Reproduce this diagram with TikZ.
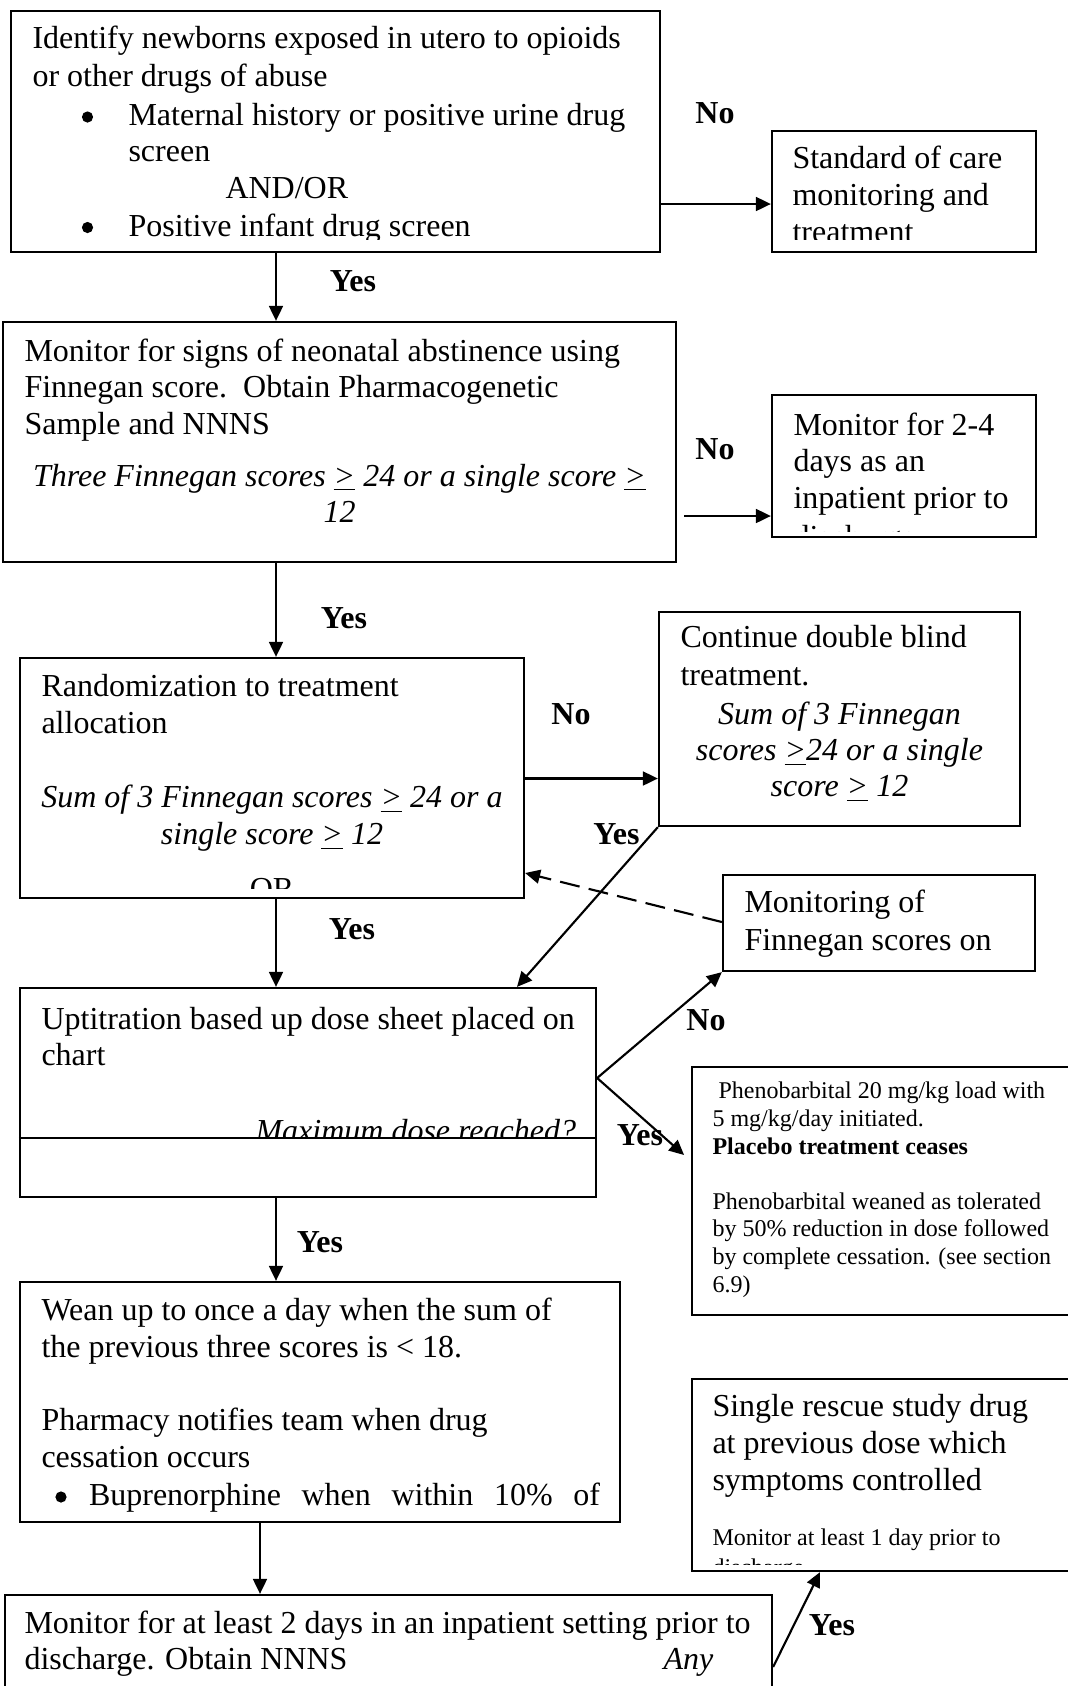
\documentclass[tikz,border=0pt]{standalone}
\usepackage{fontspec}
\setmainfont{Liberation Serif}
\usetikzlibrary{arrows.meta,fit}
\tikzset{
  box/.style={draw, line width=0.85pt, inner sep=0pt},
  txt/.style={anchor=base west, inner sep=0pt, font=\fontsize{12}{13.8}\selectfont},
  ctxt/.style={anchor=base, inner sep=0pt, font=\fontsize{12}{13.8}\selectfont\itshape},
  smalltxt/.style={anchor=base west, inner sep=0pt, font=\fontsize{9}{10.35}\selectfont},
  dot/.style={circle, fill, inner sep=0pt, minimum size=4.2pt},
  lbl/.style={anchor=base, inner sep=0pt, font=\fontsize{12}{13.8}\selectfont\bfseries},
  arr/.style={-{Triangle[length=5.6pt,width=5.2pt]}, line width=0.8pt}
}
\newcommand{\ugt}{\underline{>}}
\begin{document}
\begin{tikzpicture}[x=0.375pt, y=-0.375pt]
\useasboundingbox (0,0) rectangle (1068,1686);
\node[box, fit={(11,11) (660,252)}] (identify) {};
\node[box, fit={(772,131) (1036,252)}] (standard) {};
\node[box, fit={(3,322) (676,562)}] (monitor) {};
\node[box, fit={(772,395) (1036,537)}] (inpatient) {};
\node[box, fit={(20,658) (524,898)}] (random) {};
\node[box, fit={(659,612) (1020,826)}] (doubleblind) {};
\node[box, fit={(723,875) (1035,971)}] (monitoring) {};
\node[box, fit={(20,988) (596,1197)}] (uptitration) {};
\node[box, fit={(692,1067) (1080,1315)}] (pheno) {};
\node[box, fit={(20,1282) (620,1522)}] (wean) {};
\node[box, fit={(5,1595) (772,1700)}] (discharge) {};
\node[box, fit={(692,1379) (1080,1571)}] (rescue) {};
\begin{scope}
\clip (11,11) rectangle (660,239);
\node[txt] (identify1) at (32,48.5) {Identify newborns exposed in utero to opioids};
\node[txt] (identify2) at (32,86) {or other drugs of abuse};
\node[dot] (identify3) at (87.5,117) {};
\node[txt] (identify4) at (128,125.5) {Maternal history or positive urine drug};
\node[txt] (identify5) at (128,161) {screen};
\node[txt] (identify6) at (225,198.5) {AND/OR};
\node[dot] (identify7) at (87.5,227.5) {};
\node[txt] (identify8) at (128,236) {Positive infant drug screen};
\end{scope}
\begin{scope}
\clip (772,131) rectangle (1036,239);
\node[txt] (standard1) at (792,168) {Standard of care};
\node[txt] (standard2) at (792,205.5) {monitoring and};
\node[txt] (standard3) at (792,242.5) {treatment};
\end{scope}
\node[txt] (monitor1) at (24,361) {Monitor for signs of neonatal abstinence using};
\node[txt] (monitor2) at (24,397.5) {Finnegan score.\ \ Obtain Pharmacogenetic};
\node[txt] (monitor3) at (24,434) {Sample and NNNS};
\node[ctxt] (monitor4) at (339.5,486) {Three Finnegan scores \ugt\ 24 or a single score \ugt};
\node[ctxt] (monitor5) at (339.5,522.5) {12};
\begin{scope}
\clip (772,395) rectangle (1036,531);
\node[txt] (inpatient1) at (793,435) {Monitor for 2-4};
\node[txt] (inpatient2) at (793,471.7) {days as an};
\node[txt] (inpatient3) at (793,508.4) {inpatient prior to};
\node[txt] (inpatient4) at (793,547) {discharge};
\end{scope}
\begin{scope}
\clip (20,658) rectangle (524,888);
\node[txt] (random1) at (41,696) {Randomization to treatment};
\node[txt] (random2) at (41,733.5) {allocation};
\node[ctxt] (random3) at (272,807.5) {Sum of 3 Finnegan scores \ugt\ 24 or a};
\node[ctxt] (random4) at (272,844.5) {single score \ugt\ 12};
\node[txt, anchor=base] (random5) at (272,899) {OR};
\end{scope}
\node[txt] (doubleblind1) at (680,647.5) {Continue double blind};
\node[txt] (doubleblind2) at (680,685.5) {treatment.};
\node[ctxt] (doubleblind3) at (839.5,724.5) {Sum of 3 Finnegan};
\node[ctxt] (doubleblind4) at (839.5,760.5) {scores \ugt24 or a single};
\node[ctxt] (doubleblind5) at (839.5,796.5) {score \ugt\ 12};
\node[txt] (monitoring1) at (744,912.5) {Monitoring of};
\node[txt] (monitoring2) at (744,950) {Finnegan scores on};
\node[txt] (uptitration1) at (41,1029) {Uptitration based up dose sheet placed on};
\node[txt] (uptitration2) at (41,1065.5) {chart};
\begin{scope}
\clip (20,988) rectangle (596,1137);
\node[txt, font=\fontsize{12}{13.8}\selectfont\itshape] (uptitration3) at (255,1141) {Maximum dose reached?};
\end{scope}
\draw[line width=0.85pt] (uptitration.west |- 0,1138) -- (uptitration.east |- 0,1138);
\node[smalltxt] (pheno1) at (718,1098) {Phenobarbital 20 mg/kg load with};
\node[smalltxt] (pheno2) at (712,1126) {5 mg/kg/day initiated.};
\node[smalltxt, font=\fontsize{9}{10.35}\selectfont\bfseries] (pheno3) at (712,1154) {Placebo treatment ceases};
\node[smalltxt] (pheno4) at (712,1209) {Phenobarbital weaned as tolerated};
\node[smalltxt] (pheno5) at (712,1236.5) {by 50\% reduction in dose followed};
\node[smalltxt] (pheno6) at (712,1264) {by complete cessation. (see section};
\node[smalltxt] (pheno7) at (712,1292) {6.9)};
\node[txt] (wean1) at (41,1320.5) {Wean up to once a day when the sum of};
\node[txt] (wean2) at (41,1357) {the previous three scores is < 18.};
\node[txt] (wean3) at (41,1430.5) {Pharmacy notifies team when drug};
\node[txt] (wean4) at (41,1467.5) {cessation occurs};
\node[dot] (wean5) at (61,1497) {};
\node[txt] (wean6) at (88.5,1505.5) {\makebox[191.6pt][s]{Buprenorphine when within 10\% of}};
\node[txt] (discharge1) at (24,1633) {Monitor for at least 2 days in an inpatient setting prior to};
\node[txt] (discharge2) at (24,1669.5) {discharge. Obtain NNNS};
\node[txt, font=\fontsize{12}{13.8}\selectfont\itshape] (discharge3) at (663,1669.5) {Any};
\begin{scope}
\clip (692,1379) rectangle (1080,1564);
\node[txt] (rescue1) at (712,1416.7) {Single rescue study drug};
\node[txt] (rescue2) at (712,1453.3) {at previous dose which};
\node[txt] (rescue3) at (712,1490) {symptoms controlled};
\node[smalltxt] (rescue4) at (712,1545) {Monitor at least 1 day prior to};
\node[smalltxt] (rescue5) at (712,1575) {discharge};
\end{scope}
\draw[arr] (identify.east |- 0,204) -- (standard.west |- 0,204);
\draw[arr] (identify.south -| 276,0) -- (monitor.north -| 276,0);
\draw[arr, shorten <=2.6pt] (monitor.east |- 0,516) -- (inpatient.west |- 0,516);
\draw[arr] (monitor.south -| 276,0) -- (random.north -| 276,0);
\draw[arr] (random.east |- 0,778.5) -- (doubleblind.west |- 0,778.5);
\draw[arr] (doubleblind.south west) -- (uptitration.north -| 517,0);
\draw[arr, dash pattern=on 7.5pt off 3.5pt] (monitoring.west |- 0,922) -- (random.east |- 0,873);
\draw[arr] (random.south -| 276,0) -- (uptitration.north -| 276,0);
\draw[arr] (uptitration.east |- 0,1078) -- (monitoring.south west);
\draw[arr, shorten >=3.4pt] (uptitration.east |- 0,1078) -- (pheno.west |- 0,1161);
\draw[arr] (uptitration.south -| 276,0) -- (wean.north -| 276,0);
\draw[arr] (wean.south -| 260,0) -- (discharge.north -| 260,0);
\draw[arr] (discharge.east |- 0,1667) -- (rescue.south -| 820,0);
\node[lbl] (no1) at (715,123) {No};
\node[lbl] (yes1) at (353,291) {Yes};
\node[lbl] (no2) at (715,459) {No};
\node[lbl] (yes2) at (344,628) {Yes};
\node[lbl] (no3) at (571,724) {No};
\node[lbl] (yes3) at (616.5,844) {Yes};
\node[lbl] (yes4) at (352,939.5) {Yes};
\node[lbl] (no4) at (706,1030) {No};
\node[lbl] (yes5) at (640,1145) {Yes};
\node[lbl] (yes6) at (320,1252) {Yes};
\node[lbl] (yes7) at (832,1635) {Yes};
\end{tikzpicture}
\end{document}
